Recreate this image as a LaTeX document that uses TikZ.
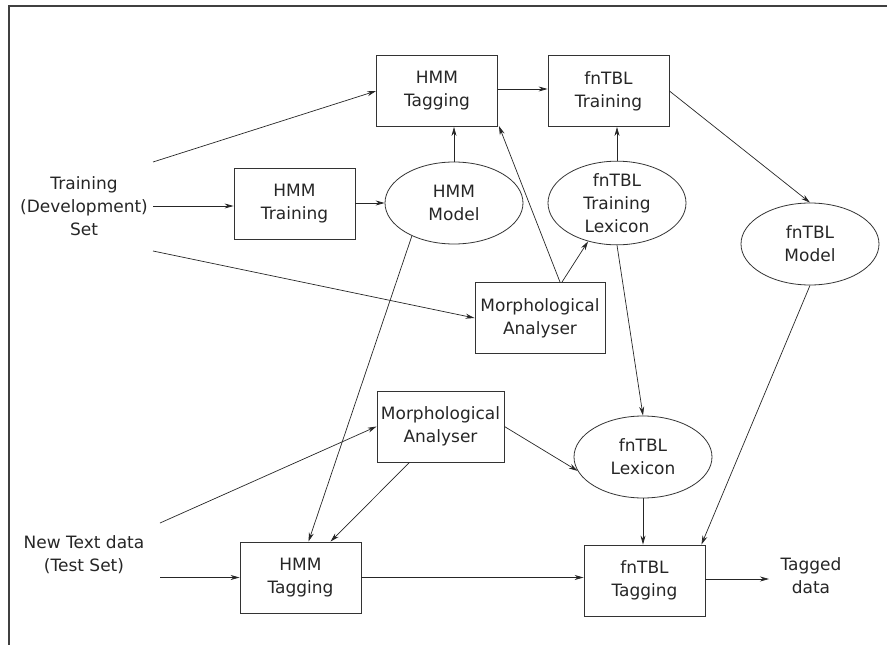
\documentclass[tikz,border=0pt]{standalone}
\usepackage{fontspec}
\setmainfont{DejaVu Sans}
\usetikzlibrary{shapes.geometric,arrows.meta,calc}
\begin{document}
\begin{tikzpicture}[x=1pt,y=-1pt,
  every node/.style={font=\fontsize{17}{23}\selectfont, text=black!85, align=center, inner sep=0pt},
  procbox/.style={draw=black!80, line width=0.9pt, minimum height=71pt},
  dataell/.style={ellipse, draw=black!80, line width=0.8pt, minimum width=138pt, minimum height=82pt},
  plain/.style={},
  conn/.style={draw=black!85, line width=0.7pt, -{Stealth[length=9pt,width=5pt]}}
]
\useasboundingbox (0,0) rectangle (887,645);
\draw[black!75, line width=1.1pt] (9,645) -- (9,6) -- (887,6);

% text nodes
\node[plain] (train) at (84,206) {Training\\(Development)\\Set};
\node[plain] (newtext) at (84,555) {New Text data\\(Test Set)};
\node[plain] (tagged) at (811,576) {Tagged\\data};

% boxes
\node[procbox, minimum width=121pt] (htop) at (437,91) {HMM\\Tagging};
\node[procbox, minimum width=121pt] (ftrain) at (608.5,91) {fnTBL\\Training};
\node[procbox, minimum width=121pt] (htrain) at (294.5,204) {HMM\\Training};
\node[procbox, minimum width=130pt] (mtop) at (540,318) {Morphological\\Analyser};
\node[procbox, minimum width=127pt] (mbot) at (440.5,426.5) {Morphological\\Analyser};
\node[procbox, minimum width=121pt] (hbot) at (300.5,577.5) {HMM\\Tagging};
\node[procbox, minimum width=121pt] (ftag) at (644.5,580.5) {fnTBL\\Tagging};

% ellipses
\node[dataell] (hmodel) at (454,203) {HMM\\Model};
\node[dataell] (ftlex) at (617,203) {fnTBL\\Training\\Lexicon};
\node[dataell] (fmodel) at (810,244) {fnTBL\\Model};
\node[dataell] (flex) at (643,457) {fnTBL\\Lexicon};

% free ends
\coordinate (tA) at (153,162);
\coordinate (tB) at (153,206);
\coordinate (tC) at (153,251);
\coordinate (nA) at (160,523);
\coordinate (nB) at (160,577.5);
\coordinate (tg) at (769,579);

% connectors
\draw[conn] (tA) -- (htop.west);
\draw[conn] (tB) -- (htrain.west |- tB);
\draw[conn] (htrain.east |- hmodel.west) -- (hmodel.west);
\draw[conn] (tC) -- (mtop.west);
\draw[conn] (hmodel.north) -- (hmodel.north |- htop.south);
\draw[conn] (htop.east |- 0,89) -- (ftrain.west |- 0,89);
\draw[conn] (ftlex.north) -- (ftlex.north |- ftrain.south);
\draw[conn] (ftrain.east) -- (fmodel.north);
\draw[conn] ([xshift=20pt]mtop.north) -- ([xshift=1pt,yshift=1pt]htop.south east);
\draw[conn] ([xshift=22pt]mtop.north) -- (ftlex.233);
\draw[conn] (ftlex.south) -- (flex.north);
\draw[conn] (hmodel.218) -- ([xshift=8pt]hbot.north);
\draw[conn] (nA) -- (mbot.west);
\draw[conn] (mbot.east) -- (flex.192);
\draw[conn] ([xshift=-31pt]mbot.south) -- ([xshift=30pt]hbot.north);
\draw[conn] (nB) -- (hbot.west);
\draw[conn] (hbot.east) -- (hbot.east -| ftag.west);
\draw[conn] (flex.south) -- (flex.south |- ftag.north);
\draw[conn] (fmodel.south) -- ([xshift=-4pt]ftag.north east);
\draw[conn] (ftag.east |- tg) -- (tg);
\end{tikzpicture}
\end{document}
